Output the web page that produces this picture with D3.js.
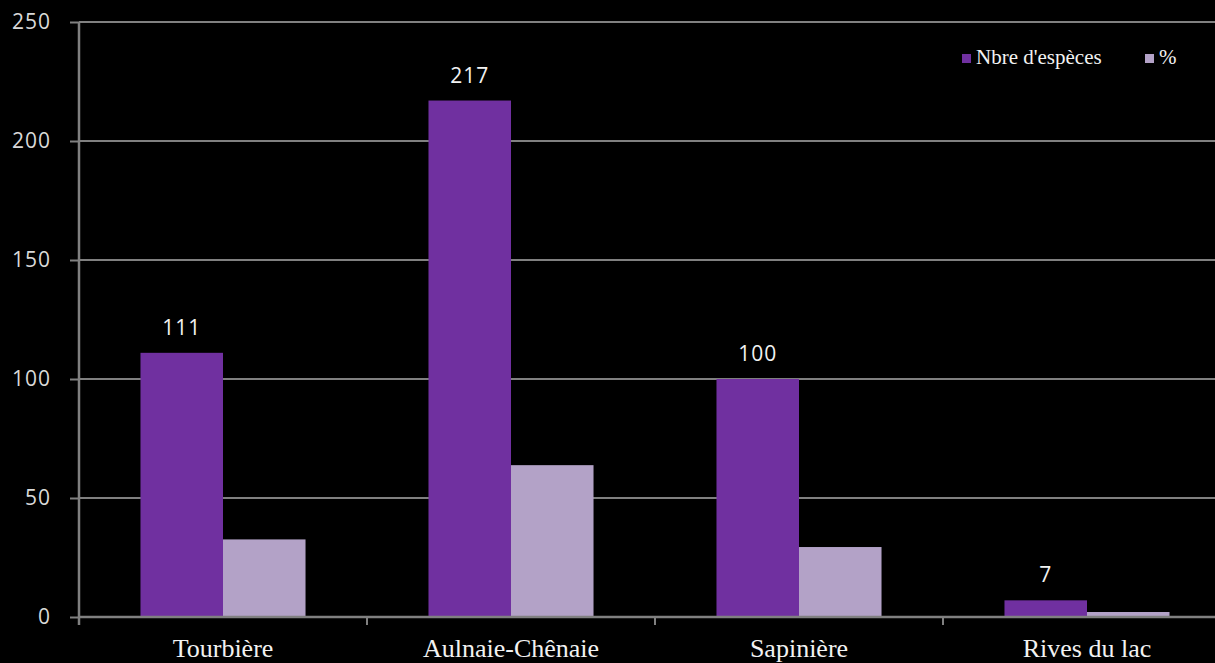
<!DOCTYPE html>
<html><head><meta charset="utf-8">
<script src="https://cdn.jsdelivr.net/npm/d3@7"></script>
<style>html,body{margin:0;padding:0;background:#000;overflow:hidden}</style>
</head><body>
<svg id="c" width="1215" height="663"></svg>
<script>
const categories = ["Tourbière", "Aulnaie-Chênaie", "Sapinière", "Rives du lac"];
const seriesNames = ["Nbre d'espèces", "%"];
const especes = [111, 217, 100, 7];
const pourcent = [32.6, 63.8, 29.4, 2.1];
const yTicks = [0, 50, 100, 150, 200, 250];
const colors = ["#7030A0", "#B3A2C7"];

const W = 1215, H = 663;
const mLeft = 79, mRight = 1231, mTop = 22, mBottom = 617;
const svg = d3.select("#c");
svg.append("rect").attr("width", W).attr("height", H).attr("fill", "#000");

const y = d3.scaleLinear().domain([0, 250]).range([mBottom, mTop]);
const x = d3.scaleBand().domain(categories).range([mLeft, mRight]).paddingInner(0).paddingOuter(0);
const inner = d3.scaleBand().domain(seriesNames).range([0, x.bandwidth()]).paddingInner(0).paddingOuter(0.745);

const sans = "'Open Sans', 'DejaVu Sans', sans-serif";
const serif = "'Liberation Serif', 'Times New Roman', serif";

// gridlines
svg.append("g").selectAll("line").data(yTicks.filter(d => d > 0)).join("line")
  .attr("x1", mLeft).attr("x2", W).attr("y1", d => y(d)).attr("y2", d => y(d))
  .attr("stroke", "#808080").attr("stroke-width", 2);

// y axis
const yAxis = d3.axisLeft(y).tickValues(yTicks).tickSize(9).tickPadding(19);
const gy = svg.append("g").attr("transform", `translate(${mLeft},0)`).call(yAxis);
gy.select(".domain").attr("stroke", "#808080").attr("stroke-width", 2.5).attr("d", `M0,${mBottom + 8}V${mTop}`);
gy.selectAll(".tick line").attr("stroke", "#808080").attr("stroke-width", 2);
gy.selectAll(".tick text").attr("fill", "#d9d9d9").attr("font-family", sans).attr("font-size", 21).attr("letter-spacing", 1);

// bars
const data = categories.map((c, i) => ({c, vals: [especes[i], pourcent[i]]}));
const groups = svg.append("g").selectAll("g").data(data).join("g")
  .attr("transform", d => `translate(${x(d.c)},0)`);
groups.selectAll("rect").data(d => d.vals.map((v, j) => ({s: seriesNames[j], v, j}))).join("rect")
  .attr("x", d => inner(d.s)).attr("width", inner.bandwidth())
  .attr("y", d => y(d.v)).attr("height", d => mBottom - y(d.v))
  .attr("fill", d => colors[d.j]);

// data labels
groups.append("text")
  .attr("x", inner(seriesNames[0]) + inner.bandwidth() / 2)
  .attr("y", d => y(d.vals[0]) - 18)
  .attr("text-anchor", "middle")
  .attr("fill", "#f2f2f2")
  .attr("font-family", sans).attr("font-size", 21).attr("letter-spacing", 1)
  .text(d => d.vals[0]);

// x axis
const xAxis = d3.axisBottom(x).tickSize(0).tickPadding(22);
const gx = svg.append("g").attr("transform", `translate(0,${mBottom})`).call(xAxis);
gx.select(".domain").attr("stroke", "#808080").attr("stroke-width", 2.5).attr("d", `M${mLeft},0H${W}`);
gx.selectAll(".tick text").attr("fill", "#f2f2f2").attr("font-family", serif).attr("font-size", 26);
// category separator ticks
svg.append("g").selectAll("line").data(categories.slice(1)).join("line")
  .attr("x1", d => x(d)).attr("x2", d => x(d)).attr("y1", mBottom).attr("y2", mBottom + 8)
  .attr("stroke", "#808080").attr("stroke-width", 2);

// legend
const legX = [962, 1145];
const leg = svg.append("g").selectAll("g").data(seriesNames).join("g")
  .attr("transform", (d, i) => `translate(${legX[i]},54)`);
leg.append("rect").attr("width", 9).attr("height", 9).attr("fill", (d, i) => colors[i]);
leg.append("text").attr("x", 14).attr("y", 10).attr("fill", "#f2f2f2")
  .attr("font-family", serif).attr("font-size", 21)
  .text(d => d);
</script>
</body></html>
